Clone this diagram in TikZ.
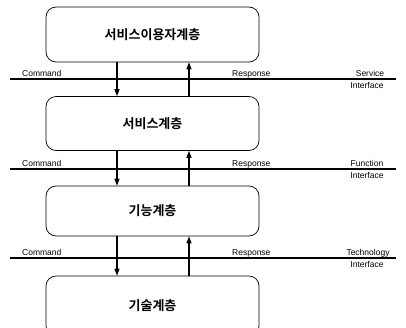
\documentclass[tikz,border=0pt]{standalone}
\usepackage{fontspec}
\setmainfont{Liberation Sans}
\newfontfamily\kofont{Noto Sans CJK KR}[BoldFont={* Bold}]
\usetikzlibrary{arrows.meta}
\begin{document}
\begin{tikzpicture}[x=1pt,y=-1pt,
  layerbox/.style={draw, line width=0.7pt, rounded corners=10pt, minimum width=213pt, inner sep=0pt, font=\kofont\bfseries\fontsize{13}{15}\selectfont},
  ifline/.style={line width=1.2pt},
  flow/.style={line width=1.1pt, -{Triangle[length=7pt,width=5pt]}},
  lbl/.style={font=\fontsize{8.5}{10}\selectfont, inner sep=0pt}]
\useasboundingbox (0,0) rectangle (406,327);
\begin{scope}
\clip (0,0) rectangle (406,327);
\node[layerbox, minimum height=55pt] (L1) at (152.5,34.5) {서비스이용자계층};
\node[layerbox, minimum height=54pt] (L2) at (152.5,123.5) {서비스계층};
\node[layerbox, minimum height=50pt] (L3) at (152.5,211) {기능계층};
\node[layerbox, minimum height=60pt] (L4) at (152.5,306) {기술계층};
\end{scope}
% interface lines
\coordinate (a1) at (10,79); \coordinate (b1) at (396,79);
\coordinate (a2) at (10,169); \coordinate (b2) at (396,169);
\coordinate (a3) at (10,258); \coordinate (b3) at (396,258);
\draw[ifline] (a1) -- (b1);
\draw[ifline] (a2) -- (b2);
\draw[ifline] (a3) -- (b3);
% arrows
\draw[flow] (L1.south -| 117,0) -- (L2.north -| 117,0);
\draw[flow] (L2.north -| 189,0) -- (L1.south -| 189,0);
\draw[flow] (L2.south -| 117,0) -- (L3.north -| 117,0);
\draw[flow] (L3.north -| 189,0) -- (L2.south -| 189,0);
\draw[flow] (L3.south -| 117,0) -- (L4.north -| 117,0);
\draw[flow] (L4.north -| 189,0) -- (L3.south -| 189,0);
% labels
\node[lbl, anchor=base west] (c1) at (22,76) {Command};
\node[lbl, anchor=base west] (r1) at (232,76) {Response};
\node[lbl, anchor=base] (s1) at (370,76) {Service};
\node[lbl, anchor=base] (t1) at (367,88) {Interface};
\node[lbl, anchor=base west] (c2) at (22,166) {Command};
\node[lbl, anchor=base west] (r2) at (232,166) {Response};
\node[lbl, anchor=base] (s2) at (367,166) {Function};
\node[lbl, anchor=base] (t2) at (367,178) {Interface};
\node[lbl, anchor=base west] (c3) at (22,255) {Command};
\node[lbl, anchor=base west] (r3) at (232,255) {Response};
\node[lbl, anchor=base] (s3) at (368,255) {Technology};
\node[lbl, anchor=base] (t3) at (367,267) {Interface};
\end{tikzpicture}
\end{document}
